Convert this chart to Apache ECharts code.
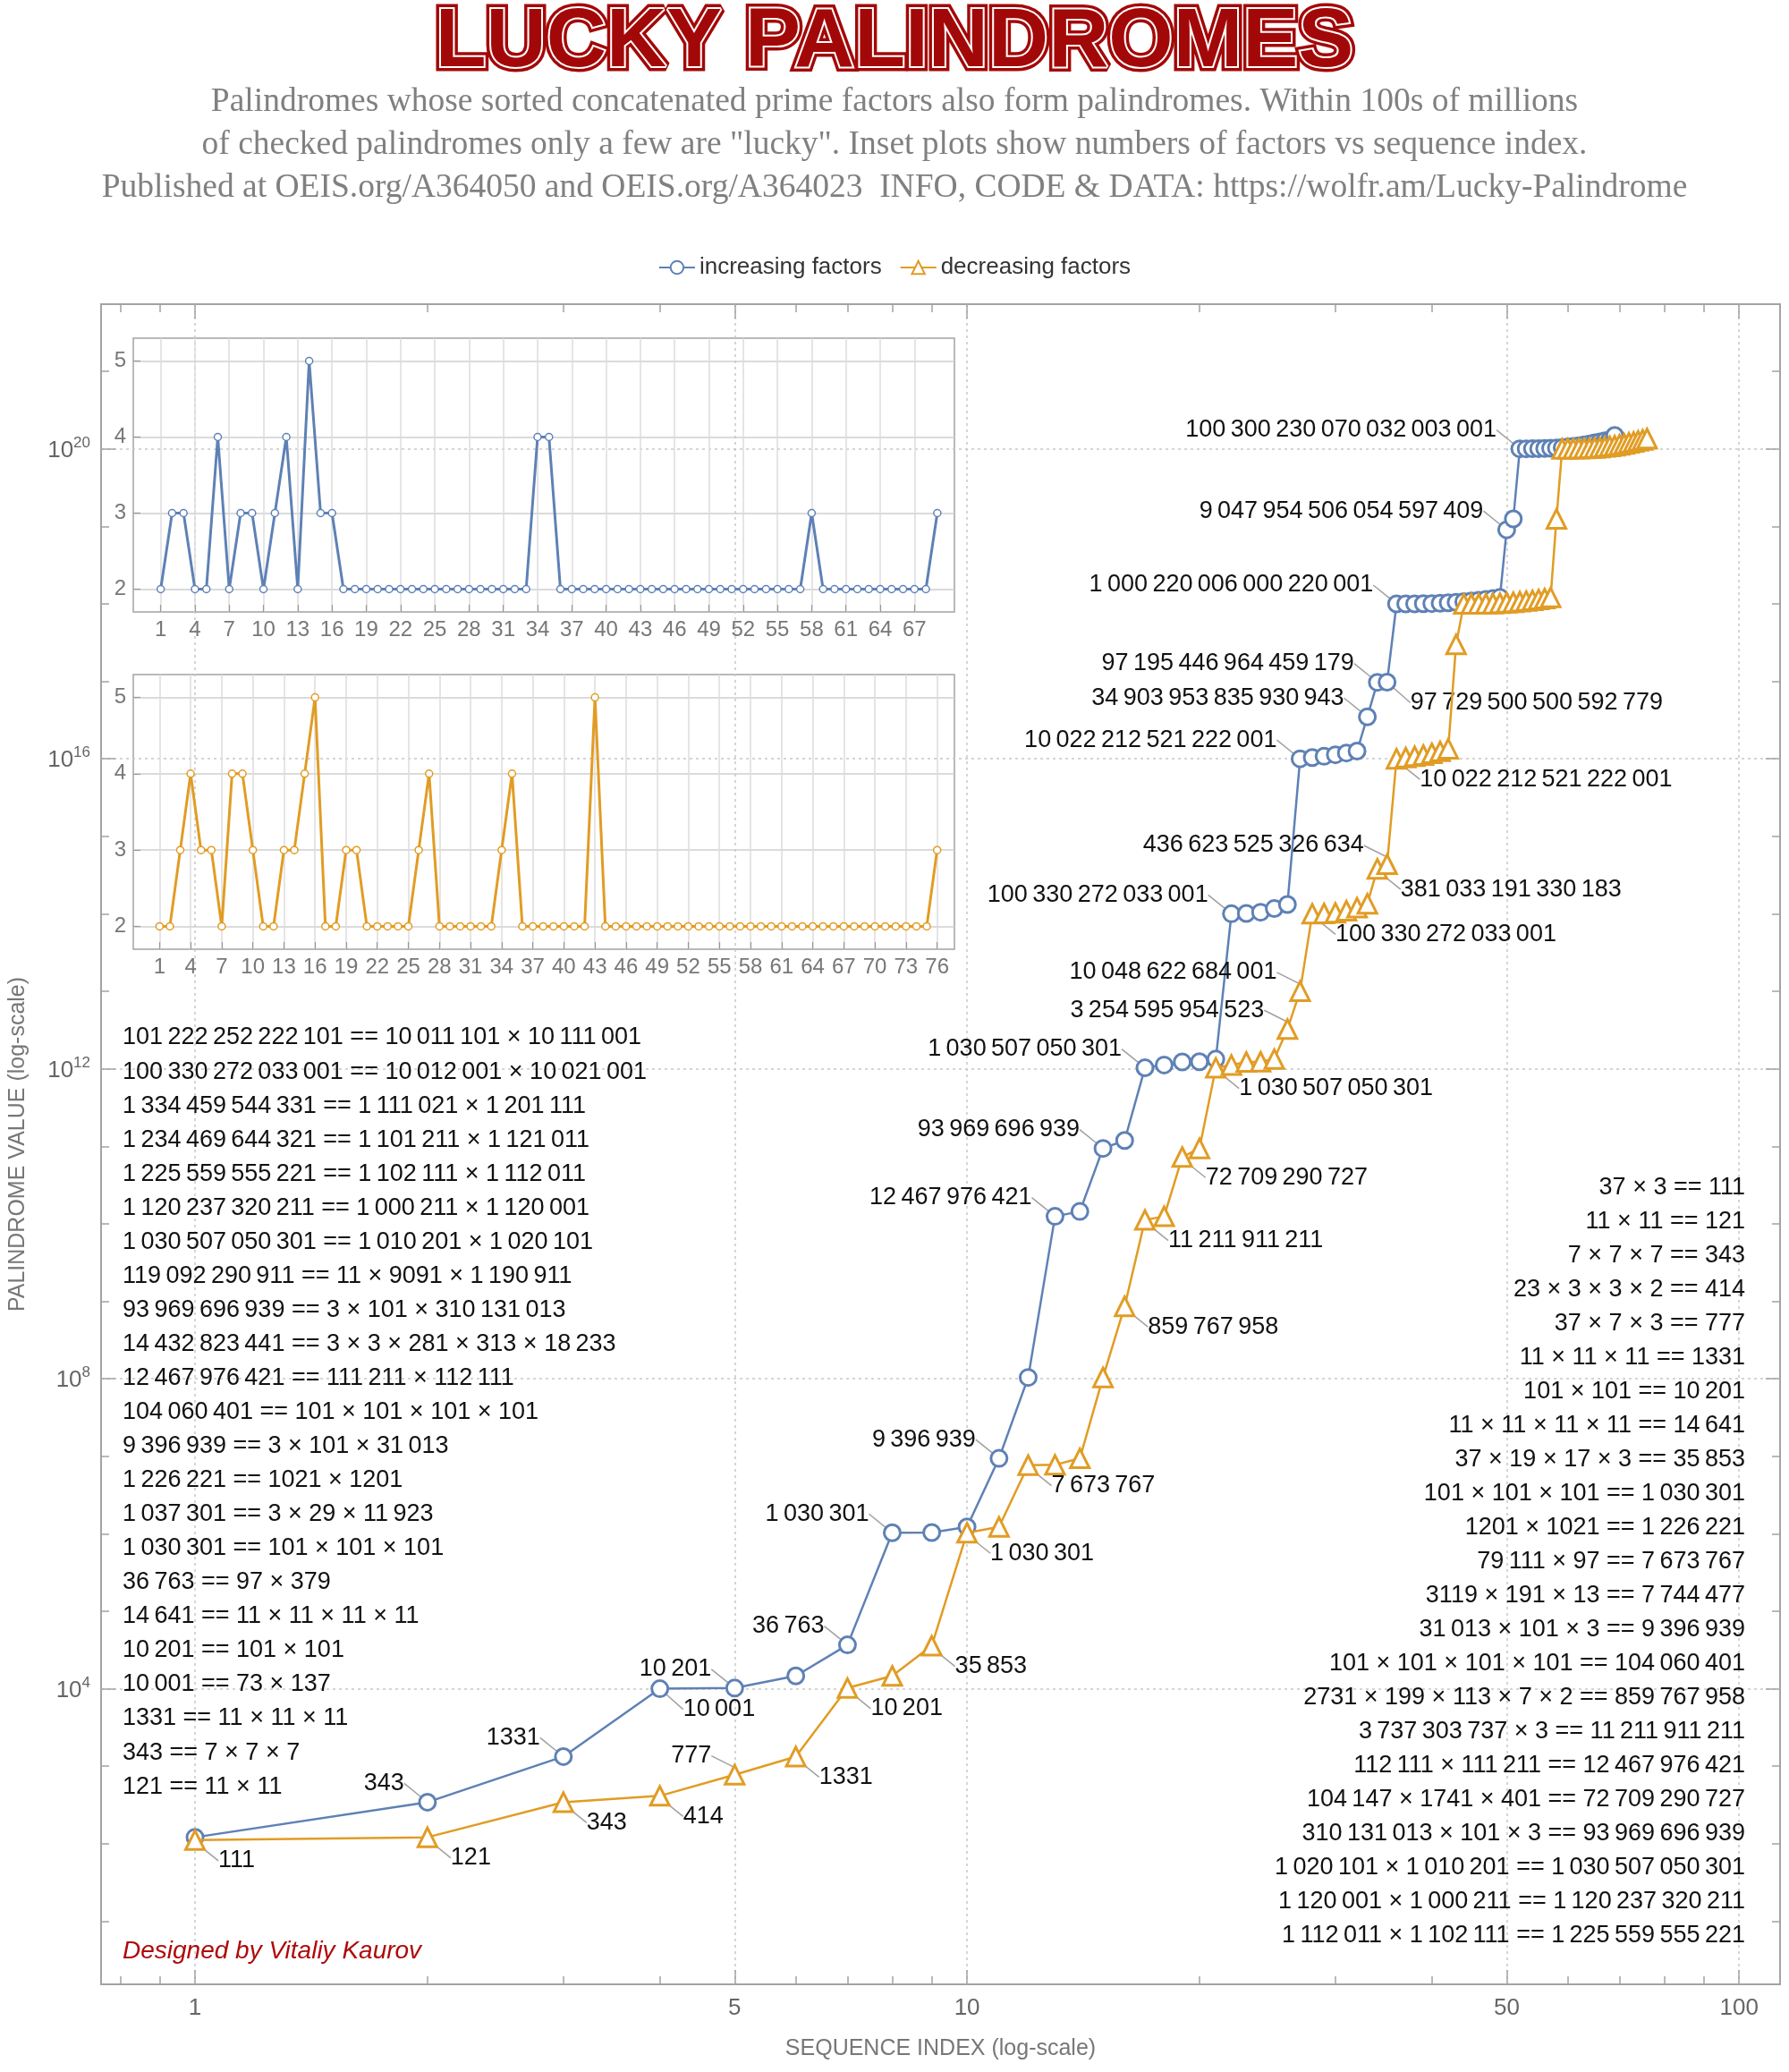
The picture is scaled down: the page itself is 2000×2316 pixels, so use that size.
<!DOCTYPE html>
<html><head><meta charset="utf-8">
<script src="https://cdn.jsdelivr.net/npm/echarts@6/dist/echarts.min.js"></script>
<style>html,body{margin:0;padding:0;background:#fff}#c{width:2000px;height:2316px}</style>
</head><body><div id="c"></div>
<script>
// ---------- DATA ----------
// palindromes, "increasing factors" sequence (A364050), as exact digit strings (estimates where unreadable)
const incValues = ['121','343','1331','10001','10201','14641','36763','1030301','1037301','1226221',
 '9396939','104060401','12467976421','14432823441','93969696939','119092290911','1030507050301',
 '1120237320211','1225559555221','1234469644321','1334459544331','100330272033001','101222252222101',
 '1.05e14','1.17e14','1.32e14','10022212521222001','1.04e16','1.08e16','1.13e16','1.19e16','1.26e16',
 '34903953835930943','97195446964459179','97729500500592779','1000220006000220001',
 '1.001e18','1.003e18','1.006e18','1.01e18','1.02e18','1.035e18','1.05e18','1.07e18','1.09e18','1.11e18','1.14e18','1.17e18','1.21e18',
 '9047954506054597409','1.25e19','100300230070032003001',
 '1.004e20','1.006e20','1.01e20','1.015e20','1.02e20','1.03e20','1.04e20','1.06e20','1.08e20','1.1e20','1.13e20','1.16e20','1.2e20','1.23e20','1.27e20','1.31e20',
 '1.49e20'];
// palindromes, "decreasing factors" sequence (A364023)
const decValues = ['111','121','343','414','777','1331','10201','14641','35853','1030301','1226221',
 '7673767','7744477','9396939','104060401','859767958','11211911211','12467976421','72709290727',
 '93969696939','1030507050301','1120237320211','1225559555221','1234469644321','1334459544331',
 '3254595954523','10048622684001','100330272033001','101222252222101','1.03e14','1.1e14','1.2e14','1.35e14',
 '381033191330183','436623525326634','10022212521222001','1.04e16','1.08e16','1.12e16','1.18e16','1.25e16','1.35e16',
 '3.0e17','1000220006000220001',
 '1.001e18','1.003e18','1.006e18','1.01e18','1.02e18','1.035e18','1.05e18','1.07e18','1.09e18','1.11e18','1.14e18','1.17e18','1.21e18',
 '1.25e19','100300230070032003001',
 '1.004e20','1.006e20','1.01e20','1.015e20','1.02e20','1.03e20','1.04e20','1.06e20','1.08e20','1.1e20','1.13e20','1.16e20','1.2e20','1.23e20','1.27e20','1.31e20',
 '1.36e20'];
// number of prime factors (inset plots)
const incFactorCounts = [2,3,3,2,2,4,2,3,3,2,3,4,2,5,3,3,
 2,2,2,2,2,2,2,2,2,2,2,2,2,2,2,2,2,
 4,4,
 2,2,2,2,2,2,2,2,2,2,2,2,2,2,2,2,2,2,2,2,2,2,
 3,
 2,2,2,2,2,2,2,2,2,2,
 3];
const decFactorCounts = [2,2,3,4,3,3,2,4,4,3,2,2,3,3,4,5,2,2,3,3,
 2,2,2,2,2,3,4,2,2,2,2,2,2,3,4,2,2,2,2,2,2,2,5,
 2,2,2,2,2,2,2,2,2,2,2,2,2,2,2,2,2,2,2,2,2,2,2,2,2,2,2,2,2,2,2,2,
 3];
// factorizations listed in the text blocks (first 23 terms)
const incFactorLists = [[11,11],[7,7,7],[11,11,11],[73,137],[101,101],[11,11,11,11],[97,379],[101,101,101],
 [3,29,11923],[1021,1201],[3,101,31013],[101,101,101,101],[111211,112111],[3,3,281,313,18233],[3,101,310131013],
 [11,9091,1190911],[1010201,1020101],[1000211,1120001],[1102111,1112011],[1101211,1121011],[1111021,1201111],
 [10012001,10021001],[10011101,10111001]];
const decFactorLists = [[37,3],[11,11],[7,7,7],[23,3,3,2],[37,7,3],[11,11,11],[101,101],[11,11,11,11],[37,19,17,3],
 [101,101,101],[1201,1021],[79111,97],[3119,191,13],[31013,101,3],[101,101,101,101],[2731,199,113,7,2],
 [3737303737,3],[112111,111211],[104147,1741,401],[310131013,101,3],[1020101,1010201],[1120001,1000211],[1112011,1102111]];
// tick values
const mainXTicks = [1,5,10,50,100];
const mainXMinorTicks = [0.8,0.9,2,3,4,6,7,8,9,20,30,40,60,70,80,90];
const mainYTickExps = [4,8,12,16,20];
const mainYMinorExps = [1,2,3,5,6,7,9,10,11,13,14,15,17,18,19,21];
const incInsetTicks = [1,4,7,10,13,16,19,22,25,28,31,34,37,40,43,46,49,52,55,58,61,64,67];
const decInsetTicks = [1,4,7,10,13,16,19,22,25,28,31,34,37,40,43,46,49,52,55,58,61,64,67,70,73,76];
const insetYTicks = [2,3,4,5];
// which points carry a callout label (1-based index -> side)
const incCallouts = {2:'L',3:'L',4:'R',5:'L',7:'L',8:'L',11:'L',13:'L',15:'L',17:'L',22:'L',27:'L',33:'L',34:'L',35:'R',36:'L',50:'L',52:'L'};
const decCallouts = {1:'R',2:'R',3:'R',4:'R',5:'L',6:'R',7:'R',9:'R',10:'R',12:'R',16:'R',17:'R',19:'R',21:'R',26:'L',27:'L',28:'R',34:'R',35:'L',36:'R'};

// ---------- STYLE / LAYOUT ----------
const FONT = '"Liberation Sans", Arial, Helvetica, sans-serif';
const C_INC = '#5E81B5', C_DEC = '#E19C24';
const RED = '#A30808';
const X_MIN = 0.7556, X_MAX = 113;
const Y_MIN = Math.pow(10, 0.185), Y_MAX = Math.pow(10, 21.868);
const FRAME = '#a3a3a3';

function grp(v){
  const s = String(v);
  if (s.length < 5) return s;
  let out = '', c = 0;
  for (let i = s.length - 1; i >= 0; i--) {
    out = s[i] + out; c++;
    if (c % 3 === 0 && i > 0) out = '\u2009' + out;
  }
  return out;
}
const pow10 = e => Math.pow(10, e);

function calloutLayout(map){
  return function(p){
    const side = map[p.dataIndex + 1];
    if (!side) return;
    const r = p.rect, cx = r.x + r.width / 2, cy = r.y + r.height / 2;
    if (side === 'L') return {x: cx - 26, y: cy - 21, align: 'right', verticalAlign: 'middle'};
    return {x: cx + 26, y: cy + 23, align: 'left', verticalAlign: 'middle'};
  };
}
function mainData(vals, map){
  return vals.map((s, i) => {
    const item = {value: [i + 1, Number(s)]};
    if (map[i + 1]) item.label = {show: true};
    return item;
  });
}

const leftLines = [];
for (let k = incFactorLists.length - 1; k >= 0; k--) {
  leftLines.push(grp(incValues[k]) + ' == ' + incFactorLists[k].map(grp).join(' \u00d7 '));
}
const rightLines = decFactorLists.map((f, k) => f.map(grp).join(' \u00d7 ') + ' == ' + grp(decValues[k]));

const graphics = [];
leftLines.forEach((t, j) => graphics.push({type: 'text', x: 137, y: 1160 + j * 38.05, z: 20, silent: true,
  style: {text: t, font: '27px ' + FONT, fill: '#111', align: 'left', verticalAlign: 'middle', textAlign: 'left', textVerticalAlign: 'middle'}}));
rightLines.forEach((t, j) => graphics.push({type: 'text', x: 1951, y: 1328 + j * 38.0, z: 20, silent: true,
  style: {text: t, font: '27px ' + FONT, fill: '#111', align: 'right', verticalAlign: 'middle', textAlign: 'right', textVerticalAlign: 'middle'}}));
graphics.push({type: 'text', x: 137, y: 2181, z: 20, silent: true,
  style: {text: 'Designed by Vitaliy Kaurov', font: 'italic 28px ' + FONT, fill: '#AE0A0A', align: 'left', verticalAlign: 'middle', textAlign: 'left', textVerticalAlign: 'middle'}});

function tickAxis(kind, extra){
  const base = {
    axisLine: {show: false, onZero: false},
    axisLabel: {show: false},
    splitLine: {show: false},
    minorTick: {show: false}, minorSplitLine: {show: false}
  };
  return Object.assign(base, extra);
}

const subtitle = 'Palindromes whose sorted concatenated prime factors also form palindromes. Within 100s of millions\n' +
  'of checked palindromes only a few are "lucky". Inset plots show numbers of factors vs sequence index.\n' +
  'Published at OEIS.org/A364050 and OEIS.org/A364023  INFO, CODE & DATA: https://wolfr.am/Lucky-Palindrome';

const titleStyle = {fontFamily: FONT, fontSize: 93, fontWeight: 'bold', color: RED};

const option = {
  animation: false,
  backgroundColor: '#fff',
  title: [
    {text: 'LUCKY PALINDROMES', left: 'center', top: 2, padding: 0,
     textStyle: Object.assign({}, titleStyle, {textBorderColor: RED, textBorderWidth: 11})},
    {text: 'LUCKY PALINDROMES', left: 'center', top: 2, padding: 0,
     textStyle: Object.assign({}, titleStyle, {textBorderColor: '#fff', textBorderWidth: 4})},
    {text: subtitle, left: 'center', top: 90, padding: 0,
     textStyle: {fontFamily: '"Liberation Serif", "Times New Roman", serif', fontSize: 37.5, lineHeight: 48, color: '#808080', fontWeight: 'normal'}}
  ],
  legend: {
    data: ['increasing factors', 'decreasing factors'], top: 286, left: 'center', padding: 0,
    itemWidth: 40, itemHeight: 18, itemGap: 20,
    textStyle: {fontSize: 26, color: '#333', fontFamily: FONT}
  },
  grid: [
    {left: 111, top: 340, width: 1879, height: 1878, show: true, borderColor: FRAME, borderWidth: 2, backgroundColor: 'transparent'},
    {left: 149, top: 378, width: 918, height: 306, show: true, borderColor: FRAME, borderWidth: 1.5, backgroundColor: 'transparent'},
    {left: 149, top: 754, width: 918, height: 307, show: true, borderColor: FRAME, borderWidth: 1.5, backgroundColor: 'transparent'}
  ],
  xAxis: [
    {type: 'log', logBase: 10, gridIndex: 0, position: 'bottom', min: X_MIN, max: X_MAX,
     name: 'SEQUENCE INDEX (log-scale)', nameLocation: 'middle', nameGap: 60,
     nameTextStyle: {fontSize: 25, color: '#777', fontFamily: FONT},
     axisLine: {show: false, onZero: false},
     axisTick: {show: true, inside: true, length: 16, customValues: mainXTicks, lineStyle: {color: FRAME, width: 1.5}},
     axisLabel: {show: true, customValues: mainXTicks, fontSize: 26, color: '#666', margin: 14, fontFamily: FONT, formatter: v => String(Math.round(v))},
     splitLine: {show: true, lineStyle: {color: '#c8c8c8', type: [3, 4], width: 1.5}},
     minorTick: {show: false}, minorSplitLine: {show: false}},
    tickAxis('x', {type: 'log', logBase: 10, gridIndex: 0, position: 'bottom', min: X_MIN, max: X_MAX,
     axisTick: {show: true, inside: true, length: 9, customValues: mainXMinorTicks, lineStyle: {color: FRAME, width: 1.5}}}),
    tickAxis('x', {type: 'log', logBase: 10, gridIndex: 0, position: 'top', min: X_MIN, max: X_MAX,
     axisTick: {show: true, inside: true, length: 16, customValues: mainXTicks, lineStyle: {color: FRAME, width: 1.5}}}),
    tickAxis('x', {type: 'log', logBase: 10, gridIndex: 0, position: 'top', min: X_MIN, max: X_MAX,
     axisTick: {show: true, inside: true, length: 9, customValues: mainXMinorTicks, lineStyle: {color: FRAME, width: 1.5}}}),
    {type: 'value', gridIndex: 1, position: 'bottom', min: -1.4, max: 70.5,
     axisLine: {show: false, onZero: false},
     axisTick: {show: true, inside: true, length: 8, customValues: incInsetTicks, lineStyle: {color: '#999', width: 1.2}},
     axisLabel: {show: true, customValues: incInsetTicks, fontSize: 24, color: '#777', margin: 8, fontFamily: FONT},
     splitLine: {show: true, lineStyle: {color: '#dcdcdc', width: 1.5}}},
    {type: 'value', gridIndex: 2, position: 'bottom', min: -1.53, max: 77.67,
     axisLine: {show: false, onZero: false},
     axisTick: {show: true, inside: true, length: 8, customValues: decInsetTicks, lineStyle: {color: '#999', width: 1.2}},
     axisLabel: {show: true, customValues: decInsetTicks, fontSize: 24, color: '#777', margin: 8, fontFamily: FONT},
     splitLine: {show: true, lineStyle: {color: '#dcdcdc', width: 1.5}}}
  ],
  yAxis: [
    {type: 'log', logBase: 10, gridIndex: 0, position: 'left', min: Y_MIN, max: Y_MAX,
     name: 'PALINDROME VALUE (log-scale)', nameLocation: 'middle', nameGap: 80, nameRotate: 90,
     nameTextStyle: {fontSize: 25, color: '#777', fontFamily: FONT},
     axisLine: {show: false, onZero: false},
     axisTick: {show: true, inside: true, length: 16, customValues: mainYTickExps.map(pow10), lineStyle: {color: FRAME, width: 1.5}},
     axisLabel: {show: true, customValues: mainYTickExps.map(pow10), margin: 12,
       formatter: v => '{b|10}{s|' + Math.round(Math.log10(v)) + '}',
       rich: {b: {fontSize: 26, color: '#666', fontFamily: FONT, lineHeight: 30, verticalAlign: 'bottom'},
              s: {fontSize: 17, color: '#666', fontFamily: FONT, lineHeight: 30, verticalAlign: 'top'}}},
     splitLine: {show: true, lineStyle: {color: '#c8c8c8', type: [3, 4], width: 1.5}},
     minorTick: {show: false}, minorSplitLine: {show: false}},
    tickAxis('y', {type: 'log', logBase: 10, gridIndex: 0, position: 'left', min: Y_MIN, max: Y_MAX,
     axisTick: {show: true, inside: true, length: 9, customValues: mainYMinorExps.map(pow10), lineStyle: {color: FRAME, width: 1.5}}}),
    tickAxis('y', {type: 'log', logBase: 10, gridIndex: 0, position: 'right', min: Y_MIN, max: Y_MAX,
     axisTick: {show: true, inside: true, length: 16, customValues: mainYTickExps.map(pow10), lineStyle: {color: FRAME, width: 1.5}}}),
    tickAxis('y', {type: 'log', logBase: 10, gridIndex: 0, position: 'right', min: Y_MIN, max: Y_MAX,
     axisTick: {show: true, inside: true, length: 9, customValues: mainYMinorExps.map(pow10), lineStyle: {color: FRAME, width: 1.5}}}),
    {type: 'value', gridIndex: 1, position: 'left', min: 1.7, max: 5.3,
     axisLine: {show: false, onZero: false},
     axisTick: {show: true, inside: true, length: 8, customValues: insetYTicks, lineStyle: {color: '#999', width: 1.2}},
     axisLabel: {show: true, customValues: insetYTicks, fontSize: 24, color: '#777', margin: 8, fontFamily: FONT},
     splitLine: {show: true, lineStyle: {color: '#cfcfcf', width: 1.5}}},
    {type: 'value', gridIndex: 2, position: 'left', min: 1.7, max: 5.3,
     axisLine: {show: false, onZero: false},
     axisTick: {show: true, inside: true, length: 8, customValues: insetYTicks, lineStyle: {color: '#999', width: 1.2}},
     axisLabel: {show: true, customValues: insetYTicks, fontSize: 24, color: '#777', margin: 8, fontFamily: FONT},
     splitLine: {show: true, lineStyle: {color: '#cfcfcf', width: 1.5}}}
  ],
  series: [
    {name: 'increasing factors', type: 'line', xAxisIndex: 0, yAxisIndex: 0, z: 3,
     data: mainData(incValues, incCallouts),
     symbol: 'circle', symbolSize: 18,
     lineStyle: {color: C_INC, width: 2.5},
     itemStyle: {color: '#fff', borderColor: C_INC, borderWidth: 3},
     label: {show: false, formatter: p => grp(incValues[p.dataIndex]), fontSize: 27, color: '#111', fontFamily: FONT},
     labelLine: {show: true, smooth: 0.3, lineStyle: {color: '#a0a0a0', width: 1.5}},
     labelLayout: calloutLayout(incCallouts),
     emphasis: {disabled: true}},
    {name: 'decreasing factors', type: 'line', xAxisIndex: 0, yAxisIndex: 0, z: 4,
     data: mainData(decValues, decCallouts),
     symbol: 'triangle', symbolSize: 21,
     lineStyle: {color: C_DEC, width: 2.5},
     itemStyle: {color: '#fff', borderColor: C_DEC, borderWidth: 3},
     label: {show: false, formatter: p => grp(decValues[p.dataIndex]), fontSize: 27, color: '#111', fontFamily: FONT},
     labelLine: {show: true, smooth: 0.3, lineStyle: {color: '#a0a0a0', width: 1.5}},
     labelLayout: calloutLayout(decCallouts),
     emphasis: {disabled: true}},
    {name: 'inc-count', type: 'line', xAxisIndex: 4, yAxisIndex: 4, z: 5,
     data: incFactorCounts.map((c, i) => [i + 1, c]),
     symbol: 'circle', symbolSize: 8,
     lineStyle: {color: C_INC, width: 3},
     itemStyle: {color: '#fff', borderColor: C_INC, borderWidth: 1.5},
     emphasis: {disabled: true}},
    {name: 'dec-count', type: 'line', xAxisIndex: 5, yAxisIndex: 5, z: 5,
     data: decFactorCounts.map((c, i) => [i + 1, c]),
     symbol: 'circle', symbolSize: 8,
     lineStyle: {color: C_DEC, width: 3},
     itemStyle: {color: '#fff', borderColor: C_DEC, borderWidth: 1.5},
     emphasis: {disabled: true}}
  ],
  graphic: {elements: graphics}
};

const chart = echarts.init(document.getElementById('c'), null, {renderer: 'canvas'});
chart.setOption(option);
</script>
</body></html>
